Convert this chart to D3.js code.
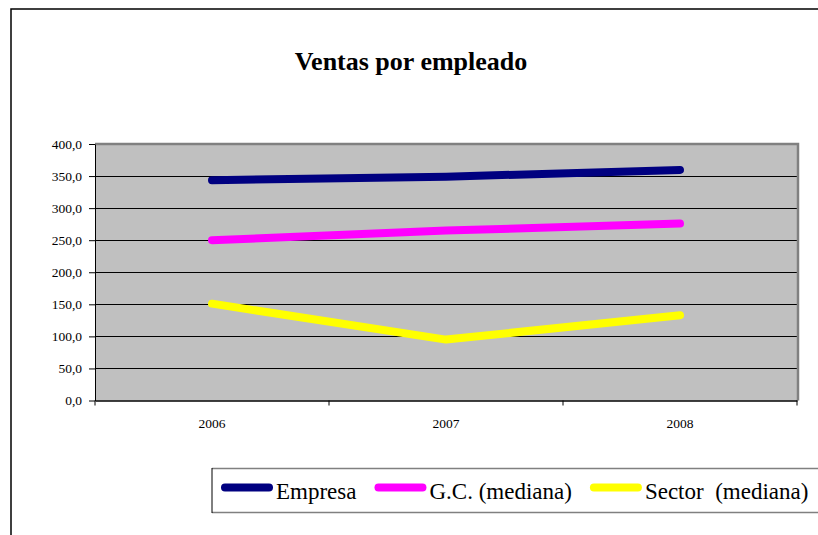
<!DOCTYPE html>
<html>
<head>
<meta charset="utf-8">
<script src="https://cdn.jsdelivr.net/npm/d3@7/dist/d3.min.js"></script>
<style>
  body { margin: 0; background: #fff; }
  text { font-family: "Liberation Serif", "Times New Roman", serif; fill: #000; }
</style>
</head>
<body>
<svg id="chart" width="818" height="535"></svg>
<script>
// data
const years = ["2006", "2007", "2008"];
const empresa = [343.5, 349.0, 359.5];
const gcMediana = [250.0, 265.0, 276.0];
const sectorMediana = [151.0, 95.0, 133.0];
const yTicks = [0, 50, 100, 150, 200, 250, 300, 350, 400];
const seriesNames = ["Empresa", "G.C. (mediana)", "Sector  (mediana)"];
const seriesColors = ["#000080", "#ff00ff", "#ffff00"];

const serif = '"Liberation Serif", "Times New Roman", serif';

const series = [empresa, gcMediana, sectorMediana].map((vals, i) => ({
  name: seriesNames[i], color: seriesColors[i], values: vals
}));

const svg = d3.select("#chart");

// outer chart frame (runs off the right and bottom of the picture)
svg.append("rect")
  .attr("x", 11).attr("y", 9)
  .attr("width", 900).attr("height", 600)
  .attr("fill", "#fff")
  .attr("stroke", "#000")
  .attr("stroke-width", 1.5);

svg.append("text")
  .attr("x", 411).attr("y", 70)
  .attr("text-anchor", "middle")
  .style("font-size", "26px")
  .style("font-weight", "bold")
  .text("Ventas por empleado");

const plot = { left: 95, right: 797, top: 144, bottom: 400.5 };

const x = d3.scaleBand().domain(years).range([plot.left, plot.right]).padding(0);
const y = d3.scaleLinear().domain([0, 400]).range([plot.bottom, plot.top]);

const esLocale = d3.formatLocale({ decimal: ",", thousands: ".", grouping: [3], currency: ["", "€"] });
const fmt = esLocale.format(".1f");

// plot background
svg.append("rect")
  .attr("x", plot.left).attr("y", plot.top)
  .attr("width", plot.right - plot.left)
  .attr("height", plot.bottom - plot.top)
  .attr("fill", "#c0c0c0");

// gridlines
svg.append("g")
  .selectAll("line")
  .data(yTicks.filter(d => d > 0 && d < 400))
  .join("line")
  .attr("x1", plot.left).attr("x2", plot.right)
  .attr("y1", d => Math.round(y(d)) + 0.5).attr("y2", d => Math.round(y(d)) + 0.5)
  .attr("stroke", "#000").attr("stroke-width", 1);

// grey border on top and right
svg.append("path")
  .attr("d", `M${plot.left},${plot.top} L${plot.right + 1},${plot.top} L${plot.right + 1},${plot.bottom}`)
  .attr("fill", "none")
  .attr("stroke", "#808080")
  .attr("stroke-width", 2.5);

// y axis
const yAxis = svg.append("g")
  .attr("transform", `translate(${plot.left},0)`)
  .call(d3.axisLeft(y).tickValues(yTicks).tickSize(6).tickSizeOuter(0).tickPadding(7).tickFormat(fmt))
  .attr("font-family", serif)
  .attr("font-size", 13.5);
yAxis.selectAll("text").style("font-family", serif).style("font-size", "13.5px");
yAxis.selectAll("line, path").attr("stroke", "#000");

// x axis, labels centred in bands, ticks on band boundaries
const xAxis = svg.append("g")
  .attr("transform", `translate(0,${plot.bottom})`)
  .call(d3.axisBottom(x).tickSize(0).tickSizeOuter(0).tickPadding(17.5))
  .attr("font-family", serif)
  .attr("font-size", 13.5);
xAxis.selectAll("text").style("font-family", serif).style("font-size", "13.5px");
xAxis.select(".domain").attr("stroke", "#000").attr("stroke-width", 1.5);

const bounds = years.map(d => x(d)).concat([x.range()[1]]);
xAxis.selectAll(".bound")
  .data(bounds)
  .join("line")
  .attr("class", "bound")
  .attr("x1", d => d).attr("x2", d => d)
  .attr("y1", 0).attr("y2", 5)
  .attr("stroke", "#000");

// series lines
const line = d3.line()
  .x((v, i) => x(years[i]) + x.bandwidth() / 2)
  .y(v => y(v));

svg.append("g")
  .selectAll("path")
  .data(series)
  .join("path")
  .attr("d", d => line(d.values))
  .attr("fill", "none")
  .attr("stroke", d => d.color)
  .attr("stroke-width", 8)
  .attr("stroke-linecap", "round")
  .attr("stroke-linejoin", "round");

// legend
const legend = svg.append("g");
legend.append("rect")
  .attr("x", 212).attr("y", 468.5)
  .attr("width", 700).attr("height", 44)
  .attr("fill", "#fff");
legend.append("line")
  .attr("x1", 212).attr("x2", 912).attr("y1", 468.5).attr("y2", 468.5)
  .attr("stroke", "#808080").attr("stroke-width", 1.5);
legend.append("line")
  .attr("x1", 212).attr("x2", 912).attr("y1", 512.5).attr("y2", 512.5)
  .attr("stroke", "#808080").attr("stroke-width", 1.5);
legend.append("line")
  .attr("x1", 212).attr("x2", 212).attr("y1", 468).attr("y2", 513)
  .attr("stroke", "#000").attr("stroke-width", 1);

let lx = 221;
series.forEach(s => {
  legend.append("line")
    .attr("x1", lx + 4).attr("x2", lx + 48)
    .attr("y1", 487.5).attr("y2", 487.5)
    .attr("stroke", s.color)
    .attr("stroke-width", 8)
    .attr("stroke-linecap", "round");
  const t = legend.append("text")
    .attr("x", lx + 55).attr("y", 498.5)
    .style("font-size", "23px")
    .style("white-space", "pre")
    .text(s.name);
  lx += 55 + t.node().getComputedTextLength() + 18;
});
</script>
</body>
</html>
